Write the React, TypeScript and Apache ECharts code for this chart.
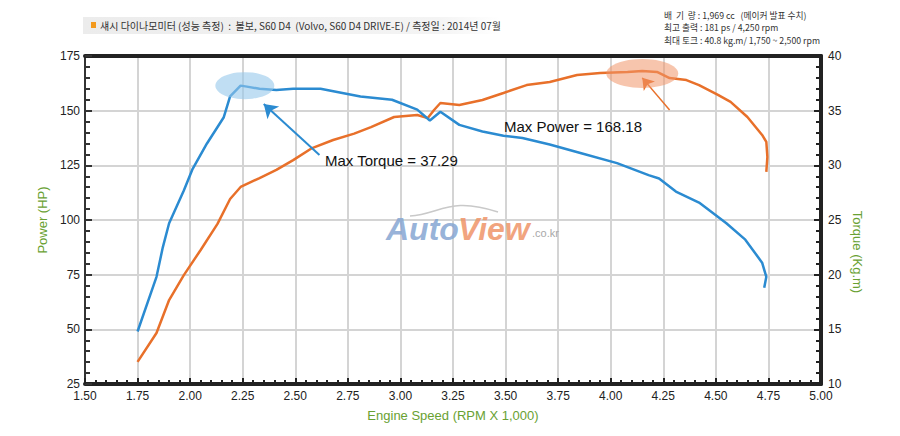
import { useEffect, useRef } from 'react'
import * as echarts from 'echarts'

// 출력 곡선 (rpm x 1,000 / HP)
const powerRpm = [1.75, 1.84, 1.9, 1.97, 2.05, 2.13, 2.19, 2.24, 2.33, 2.41, 2.49, 2.58, 2.68, 2.78, 2.86, 2.97, 3.08, 3.13, 3.16, 3.19, 3.28, 3.39, 3.49, 3.6, 3.71, 3.84, 3.95, 4.08, 4.15, 4.22, 4.28, 4.36, 4.42, 4.51, 4.57, 4.65, 4.72, 4.74, 4.745, 4.74]
const powerHp = [35.1, 48.3, 63.4, 74.8, 86.3, 98.2, 109.6, 115.1, 119.2, 122.9, 127.4, 132.9, 136.6, 139.5, 142.5, 147.1, 148.0, 146.6, 150.3, 153.5, 152.6, 154.9, 158.1, 161.7, 163.1, 166.3, 167.2, 167.7, 168.18, 167.7, 164.9, 164.0, 161.7, 157.2, 154.0, 147.1, 138.9, 135.7, 128.8, 122.0]

// 토크 곡선 (rpm x 1,000 / kg.m)
const torqueRpm = [1.75, 1.84, 1.87, 1.9, 1.97, 2.01, 2.08, 2.16, 2.19, 2.24, 2.27, 2.33, 2.41, 2.49, 2.62, 2.73, 2.81, 2.96, 3.08, 3.14, 3.19, 3.28, 3.39, 3.49, 3.58, 3.71, 3.86, 4.03, 4.18, 4.23, 4.31, 4.42, 4.55, 4.64, 4.72, 4.74, 4.73]
const torqueKgm = [14.8, 19.8, 22.5, 24.7, 27.7, 29.6, 32.0, 34.4, 36.3, 37.29, 37.2, 37.0, 36.9, 37.0, 37.0, 36.6, 36.3, 36.0, 35.1, 34.1, 34.9, 33.7, 33.1, 32.7, 32.5, 31.9, 31.1, 30.2, 29.1, 28.8, 27.6, 26.6, 24.7, 23.2, 21.1, 19.8, 18.8]

const maxPower = 168.18
const maxPowerRpm = 4.15
const maxTorque = 37.29
const maxTorqueRpm = 2.26

const title = '섀시 다이나모미터 (성능 측정)  :  볼보, S60 D4  (Volvo, S60 D4 DRIVE-E) / 측정일 : 2014년 07월'
const specLines = [
  '배  기  량 : 1,969 cc   (메이커 발표 수치)',
  '최고 출력 : 181 ps / 4,250 rpm',
  '최대 토크 : 40.8 kg.m/ 1,750 ~ 2,500 rpm'
]

const FONT = '"Liberation Sans", Arial, sans-serif'
const KFONT = '"Noto Sans CJK KR", sans-serif'
const GREEN = '#69a132'
const ORANGE = '#e8702a'
const BLUE = '#2b8bd1'
const tickLabel = { color: '#222', fontSize: 12, fontFamily: FONT }
const split = { show: true, showMinLine: false, showMaxLine: false, lineStyle: { color: '#d4d4d4', width: 2 } }

const DynoChart = () => {
  const chartRef = useRef<HTMLDivElement>(null)

  useEffect(() => {
    if (!chartRef.current) return
    const chart = echarts.init(chartRef.current, null, { renderer: 'svg' })

    chart.setOption({
      animation: false,
      backgroundColor: '#fff',
      grid: { left: 85, right: 79, top: 56, bottom: 52 },
      xAxis: [
        {
          type: 'value', min: 1.5, max: 5, interval: 0.25,
          axisLine: { show: true, onZero: false, lineStyle: { color: '#222', width: 4 } },
          axisTick: { show: true, inside: true, length: 6, lineStyle: { color: '#222', width: 2 } },
          minorTick: { show: true, splitNumber: 5, length: 4, lineStyle: { color: '#222', width: 2 } },
          axisLabel: { ...tickLabel, margin: 6, formatter: (v: number) => v.toFixed(2) },
          splitLine: split
        },
        {
          // 상단 프레임
          type: 'value', position: 'top', min: 1.5, max: 5,
          axisLine: { show: true, onZero: false, lineStyle: { color: '#222', width: 4 } },
          axisTick: { show: false }, axisLabel: { show: false }, splitLine: { show: false }
        }
      ],
      yAxis: [
        {
          type: 'value', min: 25, max: 175, interval: 25,
          axisLine: { show: true, onZero: false, lineStyle: { color: '#333', width: 2 } },
          axisTick: { show: true, inside: true, length: 7, lineStyle: { color: '#333', width: 2 } },
          minorTick: { show: true, splitNumber: 5, length: 5, lineStyle: { color: '#333', width: 2 } },
          axisLabel: { ...tickLabel, margin: 5 },
          splitLine: split,
          name: 'Power (HP)', nameLocation: 'middle', nameGap: 36,
          nameTextStyle: { color: GREEN, fontSize: 13, fontFamily: FONT }
        },
        {
          type: 'value', min: 10, max: 40, interval: 5, position: 'right',
          axisLine: { show: true, onZero: false, lineStyle: { color: '#222', width: 4 } },
          axisTick: { show: true, inside: true, length: 7, lineStyle: { color: '#222', width: 2 } },
          minorTick: { show: true, splitNumber: 5, length: 5, lineStyle: { color: '#222', width: 2 } },
          axisLabel: { ...tickLabel, margin: 7 },
          splitLine: { show: false }
        }
      ],
      series: [
        {
          type: 'line',
          yAxisIndex: 0,
          showSymbol: false,
          z: 3,
          lineStyle: { color: ORANGE, width: 2.5 },
          itemStyle: { color: ORANGE },
          data: powerRpm.map((r, i) => [r, powerHp[i]]),
          markPoint: {
            silent: true,
            symbol: 'circle',
            symbolSize: [72, 29],
            itemStyle: { color: 'rgba(240,150,105,0.55)' },
            label: { show: false },
            data: [{ coord: [maxPowerRpm, maxPower - 1.2] }]
          },
          markLine: {
            silent: true,
            symbol: ['none', 'arrow'],
            symbolSize: 11,
            label: { show: false },
            lineStyle: { color: ORANGE, width: 1.5, type: 'solid' },
            data: [[{ coord: [4.28, 150.3] }, { coord: [4.15, 165.0] }]]
          }
        },
        {
          type: 'line',
          yAxisIndex: 1,
          showSymbol: false,
          z: 3,
          lineStyle: { color: BLUE, width: 2.5 },
          itemStyle: { color: BLUE },
          data: torqueRpm.map((r, i) => [r, torqueKgm[i]]),
          markPoint: {
            silent: true,
            symbol: 'circle',
            symbolSize: [59, 27],
            itemStyle: { color: 'rgba(150,200,235,0.6)' },
            label: { show: false },
            data: [{ coord: [maxTorqueRpm, maxTorque] }]
          },
          markLine: {
            silent: true,
            symbol: ['none', 'arrow'],
            symbolSize: 13,
            label: { show: false },
            lineStyle: { color: BLUE, width: 2, type: 'solid' },
            data: [[{ coord: [2.615, 30.94] }, { coord: [2.35, 35.6] }]]
          }
        }
      ],
      graphic: [
        // 헤더 바
        {
          type: 'rect',
          shape: { x: 83, y: 17, width: 418, height: 17 },
          style: {
            fill: new echarts.graphic.LinearGradient(0, 0, 1, 0, [
              { offset: 0, color: '#ececec' },
              { offset: 0.85, color: '#f4f4f4' },
              { offset: 1, color: '#ffffff' }
            ])
          }
        },
        { type: 'rect', shape: { x: 91, y: 22, width: 5, height: 6 }, style: { fill: '#f39a1e' } },
        {
          type: 'text',
          x: 100,
          y: 25.5,
          style: { text: title, fontSize: 10, fontFamily: KFONT, fill: '#333', verticalAlign: 'middle' }
        },
        ...specLines.map((t, i) => ({
          type: 'text',
          x: 664,
          y: 15 + i * 12.5,
          scaleX: 0.97,
          style: { text: t, fontSize: 9, fontFamily: KFONT, fill: '#333', verticalAlign: 'middle' }
        })),
        // 주석
        {
          type: 'text',
          z: 100,
          x: 325,
          y: 160,
          style: { text: 'Max Torque = ' + maxTorque.toFixed(2), fontSize: 15, fontFamily: FONT, fill: '#111', verticalAlign: 'middle' }
        },
        {
          type: 'text',
          z: 100,
          x: 504,
          y: 126,
          style: { text: 'Max Power = ' + maxPower.toFixed(2), fontSize: 15, fontFamily: FONT, fill: '#111', verticalAlign: 'middle' }
        },
        // 축 이름
        {
          type: 'text',
          x: 857,
          y: 252,
          rotation: -Math.PI / 2,
          style: { text: 'Torque (Kg.m)', fontSize: 13, fontFamily: FONT, fill: GREEN, align: 'center', verticalAlign: 'middle' }
        },
        {
          type: 'text',
          x: 453,
          y: 415,
          style: { text: 'Engine Speed (RPM X 1,000)', fontSize: 13, fontFamily: FONT, fill: GREEN, align: 'center', verticalAlign: 'middle' }
        },
        // 워터마크
        {
          type: 'bezierCurve',
          z: 100,
          shape: { x1: 410, y1: 216, x2: 498, y2: 212, cpx1: 440, cpy1: 214, cpx2: 450, cpy2: 196 },
          style: { stroke: '#c9c9c9', lineWidth: 1.5, fill: 'none' }
        },
        {
          type: 'text',
          z: 100,
          x: 386,
          y: 229,
          style: { text: 'Auto', fontSize: 32, fontWeight: 'bold', fontStyle: 'italic', fontFamily: FONT, verticalAlign: 'middle', fill: '#86a6d2', opacity: 0.85 }
        },
        {
          type: 'text',
          z: 100,
          x: 458,
          y: 229,
          style: { text: 'View', fontSize: 32, fontWeight: 'bold', fontStyle: 'italic', fontFamily: FONT, verticalAlign: 'middle', fill: '#ef9468', opacity: 0.85 }
        },
        {
          type: 'text',
          z: 100,
          x: 532,
          y: 233,
          style: { text: '.co.kr', fontSize: 11, fontFamily: FONT, fill: '#a8a8a8', verticalAlign: 'middle' }
        }
      ]
    })

    return () => chart.dispose()
  }, [])

  return <div ref={chartRef} style={{ position: 'fixed', left: 0, top: 0, width: 900, height: 436, background: '#fff' }} />
}

export default function App() {
  return <DynoChart />
}
